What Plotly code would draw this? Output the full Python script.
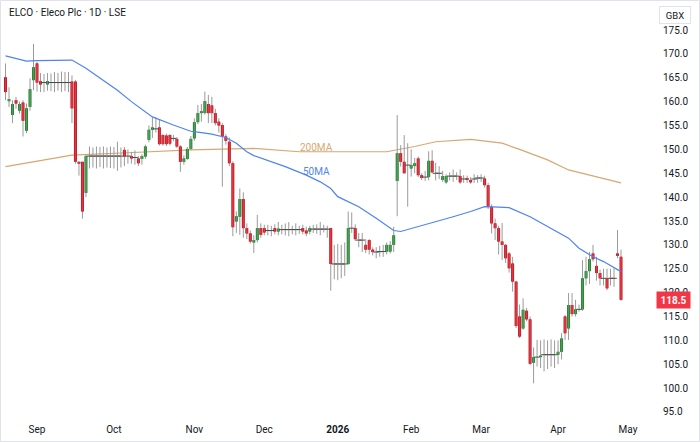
import pandas as pd
import plotly.graph_objects as go

chart_title = "ELCO · Eleco Plc · 1D · LSE"
currency = "GBX"
last_price_label = "118.5"

# LSE trading calendar (UK holidays removed)
holidays = ["2025-08-25", "2025-12-25", "2025-12-26", "2026-01-01", "2026-04-03", "2026-04-06"]
calendar = [d for d in pd.bdate_range("2025-08-18", "2026-05-01")
            if d.strftime("%Y-%m-%d") not in holidays]

month_keys = ["2025-09", "2025-10", "2025-11", "2025-12", "2026-01", "2026-02", "2026-03", "2026-04", "2026-05"]
month_labels = ["Sep", "Oct", "Nov", "Dec", "<b>2026</b>", "Feb", "Mar", "Apr", "May"]
price_ticks = [95, 100, 105, 110, 115, 120, 125, 130, 135, 140, 145, 150, 155, 160, 165, 170, 175]

opens = [165.1, 160.1, 157.2, 160.3, 158.1, 159.8, 153.9, 158.9, 164.5,
         168.0, 164.3, 164.0, 163.6, 164.0, 164.0, 164.0, 164.0, 164.0, 164.0,
         164.2, 164.2, 147.4, 147.4, 140.9, 148.6, 148.6, 148.6, 148.6, 148.6,
         148.6, 148.6, 148.6, 148.6, 148.6, 149.9, 148.6, 148.6, 148.3, 148.1,
         148.0, 148.5, 152.0, 154.1, 154.3, 154.6, 153.0, 152.9, 153.0, 152.3,
         152.2, 150.6, 147.4, 148.0, 150.1, 152.3, 155.7, 157.6, 157.6, 159.5,
         159.2, 157.6, 155.8, 155.1, 152.7, 151.6, 147.1, 134.9, 135.9, 139.6,
         133.5, 132.4, 130.5, 131.0, 133.5, 133.5, 133.0, 133.0, 133.5, 132.8,
         133.2, 133.2, 133.2, 133.2, 133.2, 133.2, 133.5, 133.0, 132.8, 133.3,
         133.3, 133.3, 133.3, 133.3, 133.5, 126.0, 126.0, 126.0, 126.0, 126.0,
         133.5, 133.5, 131.0, 131.0, 130.0, 131.0, 129.0, 128.5, 128.6, 128.6,
         128.6, 128.6, 130.0, 143.4, 149.2, 147.4, 146.7, 146.0, 146.5, 148.1,
         144.6, 144.2, 144.2, 147.6, 145.0, 145.0, 143.6, 143.1, 144.4, 144.4,
         144.4, 144.4, 143.8, 144.0, 143.6, 143.8, 144.0, 144.0, 143.9, 142.5,
         138.0, 134.5, 133.5, 130.7, 130.0, 128.2, 126.1, 122.3, 115.0, 112.5,
         116.2, 114.4, 105.3, 106.5, 106.5, 107.0, 107.0, 107.0, 107.0, 107.0,
         107.6, 115.0, 112.5, 117.4, 115.5, 116.5, 116.5, 123.0, 124.5, 128.2,
         125.6, 124.1, 123.0, 123.0, 123.0, 123.0, 128.2, 127.5]
highs = [168.0, 163.0, 160.3, 161.0, 160.0, 160.3, 159.6, 164.9, 172.1,
         168.3, 166.0, 165.8, 166.0, 165.9, 166.2, 166.0, 166.3, 166.2, 166.2,
         165.5, 164.5, 147.4, 147.4, 149.0, 150.6, 150.4, 150.6, 150.5, 150.6,
         150.4, 150.6, 150.5, 151.6, 150.4, 150.5, 150.0, 149.5, 149.8, 148.6,
         149.0, 151.0, 155.0, 156.7, 156.7, 156.2, 153.2, 153.3, 153.2, 153.0,
         152.6, 150.9, 148.7, 150.5, 152.8, 156.5, 159.3, 159.5, 162.1, 161.4,
         161.0, 158.5, 156.5, 155.5, 153.2, 152.5, 147.5, 137.0, 141.8, 141.0,
         134.5, 133.0, 132.0, 136.3, 134.5, 134.2, 134.2, 134.0, 134.3, 134.8,
         134.2, 134.5, 134.8, 134.0, 134.5, 134.0, 134.2, 133.8, 134.0, 134.2,
         134.3, 134.8, 134.2, 134.0, 133.6, 130.0, 130.2, 130.0, 130.5, 137.0,
         136.8, 134.3, 132.5, 132.5, 131.2, 131.2, 129.5, 129.5, 129.8, 130.0,
         130.5, 130.8, 133.8, 157.2, 150.9, 153.0, 151.3, 150.0, 148.2, 148.5,
         145.0, 145.5, 149.6, 149.8, 147.2, 146.5, 145.5, 144.8, 145.2, 145.8,
         145.2, 145.8, 144.6, 144.5, 144.2, 144.8, 144.6, 144.8, 144.5, 143.0,
         138.5, 135.5, 134.0, 134.6, 130.2, 128.5, 127.5, 122.5, 117.5, 118.8,
         116.8, 115.0, 108.5, 110.1, 110.0, 110.2, 110.0, 110.2, 110.0, 110.0,
         111.5, 115.3, 119.9, 119.9, 118.5, 117.5, 126.8, 127.5, 128.5, 130.0,
         127.5, 124.8, 125.0, 125.0, 125.0, 125.1, 133.1, 129.0]
lows = [160.3, 158.9, 155.5, 158.5, 157.5, 152.7, 153.4, 158.1, 162.4,
        162.1, 162.0, 162.0, 162.3, 162.2, 162.0, 162.3, 162.0, 162.2, 162.0,
        155.5, 147.0, 144.5, 135.5, 140.0, 146.0, 146.2, 146.0, 146.3, 146.0,
        146.2, 146.1, 146.0, 145.5, 146.2, 146.5, 147.0, 147.0, 146.8, 146.5,
        146.8, 148.0, 151.5, 152.4, 153.5, 150.8, 150.8, 150.7, 150.8, 151.7,
        150.3, 145.3, 146.8, 147.8, 149.8, 151.8, 155.3, 155.8, 157.3, 155.5,
        155.5, 155.0, 153.5, 142.2, 151.0, 146.5, 131.8, 132.5, 132.1, 131.5,
        131.2, 130.3, 128.3, 130.5, 131.5, 132.0, 132.0, 131.8, 132.2, 132.0,
        132.2, 132.0, 131.8, 132.2, 132.0, 132.3, 132.2, 131.8, 132.2, 132.5,
        132.3, 132.0, 132.6, 131.5, 120.4, 122.8, 122.6, 123.0, 123.5, 125.8,
        132.5, 130.8, 129.5, 128.5, 128.3, 128.0, 127.8, 127.2, 127.5, 127.5,
        128.0, 128.2, 128.5, 136.0, 146.4, 145.0, 138.0, 144.3, 145.0, 144.2,
        143.6, 143.4, 143.5, 145.0, 143.5, 143.8, 143.2, 142.8, 143.5, 143.2,
        143.6, 142.8, 143.0, 143.0, 142.8, 143.0, 143.0, 143.2, 142.0, 137.5,
        132.4, 131.0, 128.0, 126.8, 126.2, 124.2, 120.2, 112.6, 110.5, 112.2,
        114.0, 104.8, 101.0, 104.5, 104.2, 103.5, 104.0, 104.5, 104.2, 105.0,
        106.0, 110.1, 110.1, 115.0, 115.0, 116.0, 116.2, 121.5, 121.8, 126.5,
        122.5, 121.5, 121.5, 120.5, 121.5, 121.2, 127.2, 118.3]
closes = [162.0, 160.5, 159.5, 159.6, 159.5, 156.0, 158.6, 162.6, 167.2,
          164.0, 163.6, 164.0, 164.3, 164.0, 164.0, 164.0, 164.0, 164.0, 164.0,
          158.6, 147.4, 147.0, 137.0, 148.6, 148.6, 148.6, 148.6, 148.6, 148.6,
          148.6, 148.6, 148.6, 148.6, 148.6, 148.5, 148.6, 148.1, 148.3, 147.1,
          148.6, 150.6, 154.1, 154.6, 154.3, 151.1, 151.1, 151.1, 151.2, 152.3,
          150.6, 147.4, 148.1, 150.1, 152.2, 155.7, 157.6, 158.0, 160.1, 157.6,
          157.6, 155.5, 155.0, 152.7, 151.8, 147.1, 133.7, 136.0, 139.6, 133.5,
          132.4, 130.7, 131.0, 133.5, 132.1, 132.6, 133.0, 133.0, 132.8, 133.4,
          133.2, 133.2, 133.2, 133.2, 133.2, 133.2, 132.8, 132.4, 133.5, 133.3,
          133.3, 133.3, 133.3, 133.3, 126.0, 126.0, 126.0, 126.0, 126.0, 133.5,
          133.5, 131.2, 131.0, 131.0, 129.0, 129.0, 128.5, 128.5, 128.6, 128.6,
          130.0, 130.0, 132.0, 149.2, 147.4, 145.0, 146.7, 146.7, 147.1, 144.6,
          144.0, 144.2, 147.6, 145.2, 145.0, 145.0, 144.4, 144.4, 144.4, 144.4,
          144.4, 143.1, 143.8, 143.6, 143.1, 143.8, 144.0, 144.0, 142.5, 138.0,
          134.5, 133.5, 130.7, 130.0, 127.2, 125.1, 122.3, 113.0, 110.8, 116.4,
          114.4, 105.1, 106.5, 106.5, 106.8, 107.0, 107.0, 107.0, 107.0, 107.6,
          110.4, 111.5, 117.4, 115.5, 116.5, 116.5, 123.0, 124.5, 127.0, 127.0,
          124.1, 123.0, 123.0, 120.9, 123.0, 123.0, 127.7, 118.5]

# moving averages (bar number from the first candle, value)
ma50_bar = [0, 6, 9, 14, 19, 23, 27, 32, 36, 42, 48, 53, 55, 59, 63, 66, 69, 71, 80, 86,
            90, 93, 95, 101, 106, 111, 113, 118, 128, 133, 137, 141, 144, 150, 156, 161,
            164, 168, 171, 175, 176]
ma50_val = [169.6, 168.5, 168.6, 168.7, 168.7, 167.0, 164.9, 162.4, 160.0, 156.8, 155.1,
            153.8, 153.6, 153.2, 152.5, 151.3, 149.5, 148.7, 146.4, 144.6, 143.2, 141.8,
            140.1, 138.0, 135.6, 133.0, 132.8, 133.8, 135.9, 137.0, 138.0, 137.9, 137.8,
            135.9, 133.5, 131.4, 129.3, 127.5, 126.5, 124.7, 124.4]
ma200_bar = [0, 19, 35, 53, 71, 84, 94, 109, 117, 123, 133, 140, 142, 147, 155, 161, 169, 176]
ma200_val = [146.4, 148.8, 149.3, 149.9, 150.2, 149.5, 149.5, 149.5, 150.6, 151.6, 152.1,
             151.6, 151.3, 150.0, 147.8, 145.7, 144.2, 143.0]

RED, RED_EDGE = "#e8323e", "#a3161f"
GREEN, GREEN_EDGE = "#43a352", "#226b2e"
WICK = "#9a9a9a"
TEXT = "#131722"
BLUE = "#4f83f1"
TAN = "#d6a872"

n = len(closes)
xs = list(range(n))

wx, wy = [], []
up_x, up_y, dn_x, dn_y = [], [], [], []
doji_x, doji_y = [], []
for i in xs:
    o, h, l, c = opens[i], highs[i], lows[i], closes[i]
    wx += [i, i, None]
    wy += [l, h, None]
    if abs(c - o) < 0.15:
        doji_x.append(i)
        doji_y.append(c)
    elif c > o:
        up_x += [i, i, None]
        up_y += [o, c, None]
    else:
        dn_x += [i, i, None]
        dn_y += [o, c, None]

fig = go.Figure()
fig.add_trace(go.Scatter(x=ma200_bar, y=ma200_val, mode="lines",
                         line=dict(color=TAN, width=1.2), hoverinfo="skip"))
fig.add_trace(go.Scatter(x=wx, y=wy, mode="lines", line=dict(color=WICK, width=1),
                         hoverinfo="skip"))
fig.add_trace(go.Scatter(x=up_x, y=up_y, mode="lines", line=dict(color=GREEN_EDGE, width=3),
                         hoverinfo="skip"))
fig.add_trace(go.Scatter(x=up_x, y=up_y, mode="lines", line=dict(color=GREEN, width=1.8),
                         hoverinfo="skip"))
fig.add_trace(go.Scatter(x=dn_x, y=dn_y, mode="lines", line=dict(color=RED_EDGE, width=3),
                         hoverinfo="skip"))
fig.add_trace(go.Scatter(x=dn_x, y=dn_y, mode="lines", line=dict(color=RED, width=1.8),
                         hoverinfo="skip"))
fig.add_trace(go.Scatter(x=doji_x, y=doji_y, mode="markers",
                         marker=dict(symbol="line-ew", size=4, line=dict(color="#4a4a4a", width=1)),
                         hoverinfo="skip"))
fig.add_trace(go.Scatter(x=ma50_bar, y=ma50_val, mode="lines",
                         line=dict(color=BLUE, width=1.2), hoverinfo="skip"))

# month ticks at first trading day of each month
keys = [d.strftime("%Y-%m") for d in calendar]
tick_pos = [keys.index(k) for k in month_keys]

L, R, T, B = 3, 55, 4, 24
W, H = 700, 442
pw, ph = W - L - R, H - T - B

fig.update_layout(
    width=W, height=H,
    margin=dict(l=L, r=R, t=T, b=B),
    paper_bgcolor="white", plot_bgcolor="white",
    showlegend=False,
    font=dict(family="Roboto, sans-serif", color=TEXT, size=10),
    xaxis=dict(range=[-0.72, 182.86], tickvals=tick_pos, ticktext=month_labels,
               showgrid=False, zeroline=False, showline=False, ticks="",
               tickfont=dict(size=10, color=TEXT), ticklabelstandoff=4, fixedrange=True),
    yaxis=dict(range=[93.74, 180.45], side="right", tickvals=price_ticks, tickformat=".1f",
               showgrid=False, zeroline=False, showline=False, ticks="",
               tickfont=dict(size=10, color=TEXT), ticklabelstandoff=17, fixedrange=True),
)

def px_x(p):
    return (p - L) / pw

def px_y(p):
    return (H - B - p) / ph

fig.add_annotation(text=chart_title, xref="paper", yref="paper", x=px_x(7), y=px_y(13),
                   xanchor="left", yanchor="middle", showarrow=False,
                   font=dict(size=10, color=TEXT))
fig.add_annotation(text=currency, xref="paper", yref="paper", x=px_x(675), y=px_y(15),
                   xanchor="center", yanchor="middle", showarrow=False, width=26, height=12,
                   borderpad=2, bordercolor="#e0e3eb", borderwidth=1, bgcolor="white",
                   font=dict(size=9.5, color=TEXT))
fig.add_annotation(text="<b>" + last_price_label + "</b>", xref="paper", yref="y",
                   x=px_x(673), y=closes[-1], xanchor="center", yanchor="middle",
                   showarrow=False, width=29, height=12, borderpad=2, bgcolor="#f23645",
                   font=dict(size=10, color="white"))
fig.add_annotation(text="200MA", x=88.8, y=150.3, showarrow=False,
                   font=dict(size=10, color=TAN))
fig.add_annotation(text="50MA", x=88.8, y=145.3, showarrow=False,
                   font=dict(size=10, color=BLUE))

fig.add_shape(type="rect", xref="paper", yref="paper",
              x0=px_x(0.5), x1=px_x(699.5), y0=px_y(441.5), y1=px_y(0.5),
              line=dict(color="#e0e3eb", width=1), fillcolor="rgba(0,0,0,0)", layer="above")

fig.write_html("out.html")
